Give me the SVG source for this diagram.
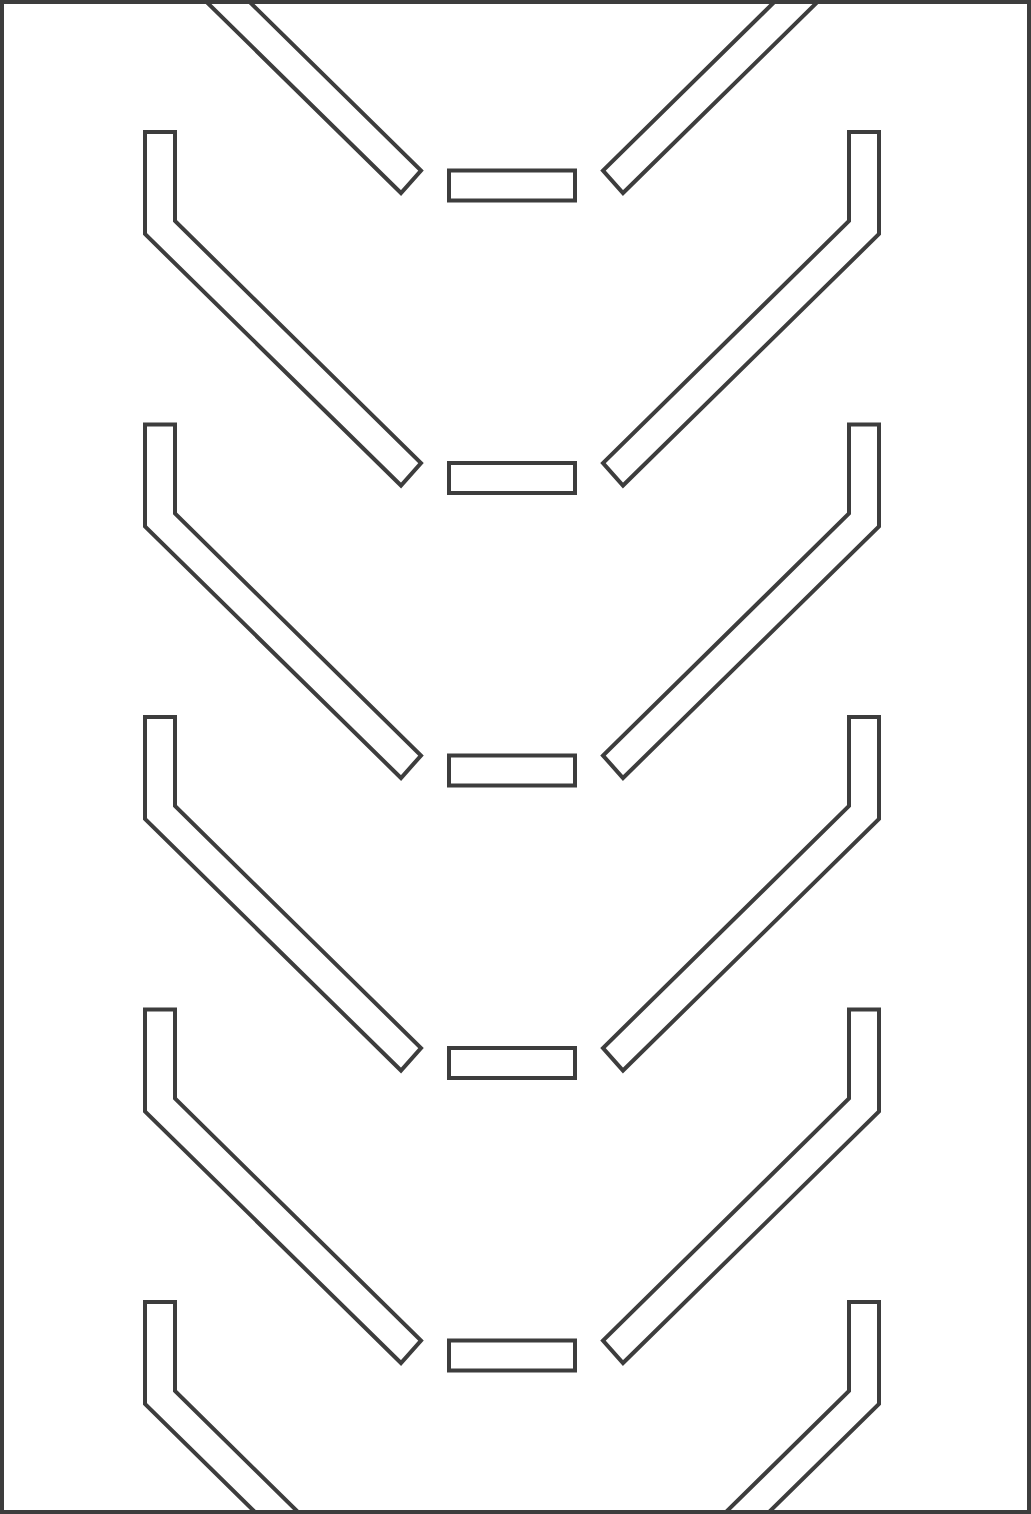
<svg xmlns="http://www.w3.org/2000/svg" xmlns:xlink="http://www.w3.org/1999/xlink" width="1031" height="1514" viewBox="0 0 1031 1514">
  <style>
    .s { fill: #ffffff; stroke: #3d3d3d; stroke-width: 4; stroke-linejoin: miter; }
    .f { fill: none; stroke: #3d3d3d; stroke-width: 4; }
  </style>
  <defs>
    <clipPath id="frameClip">
      <rect x="2" y="2" width="1027" height="1510"/>
    </clipPath>
    <g id="chevron">
      <path class="s" d="M145,132 H175 V221 L421,463 L401,485.5 L145,234 Z"/>
      <path class="s" d="M879,132 H849 V221 L603,463 L623,485.5 L879,234 Z"/>
      <rect class="s" x="449" y="463" width="126" height="30"/>
    </g>
  </defs>
  <rect x="0" y="0" width="1031" height="1514" fill="#ffffff"/>
  <g id="pattern" clip-path="url(#frameClip)">
    <g id="row0"><use xlink:href="#chevron" href="#chevron" transform="translate(0,-292.5)"/></g>
    <g id="row1"><use xlink:href="#chevron" href="#chevron" transform="translate(0,0)"/></g>
    <g id="row2"><use xlink:href="#chevron" href="#chevron" transform="translate(0,292.5)"/></g>
    <g id="row3"><use xlink:href="#chevron" href="#chevron" transform="translate(0,585)"/></g>
    <g id="row4"><use xlink:href="#chevron" href="#chevron" transform="translate(0,877.5)"/></g>
    <g id="row5"><use xlink:href="#chevron" href="#chevron" transform="translate(0,1170)"/></g>
  </g>
  <rect id="frame" class="f" x="2" y="2" width="1027" height="1510"/>
</svg>
